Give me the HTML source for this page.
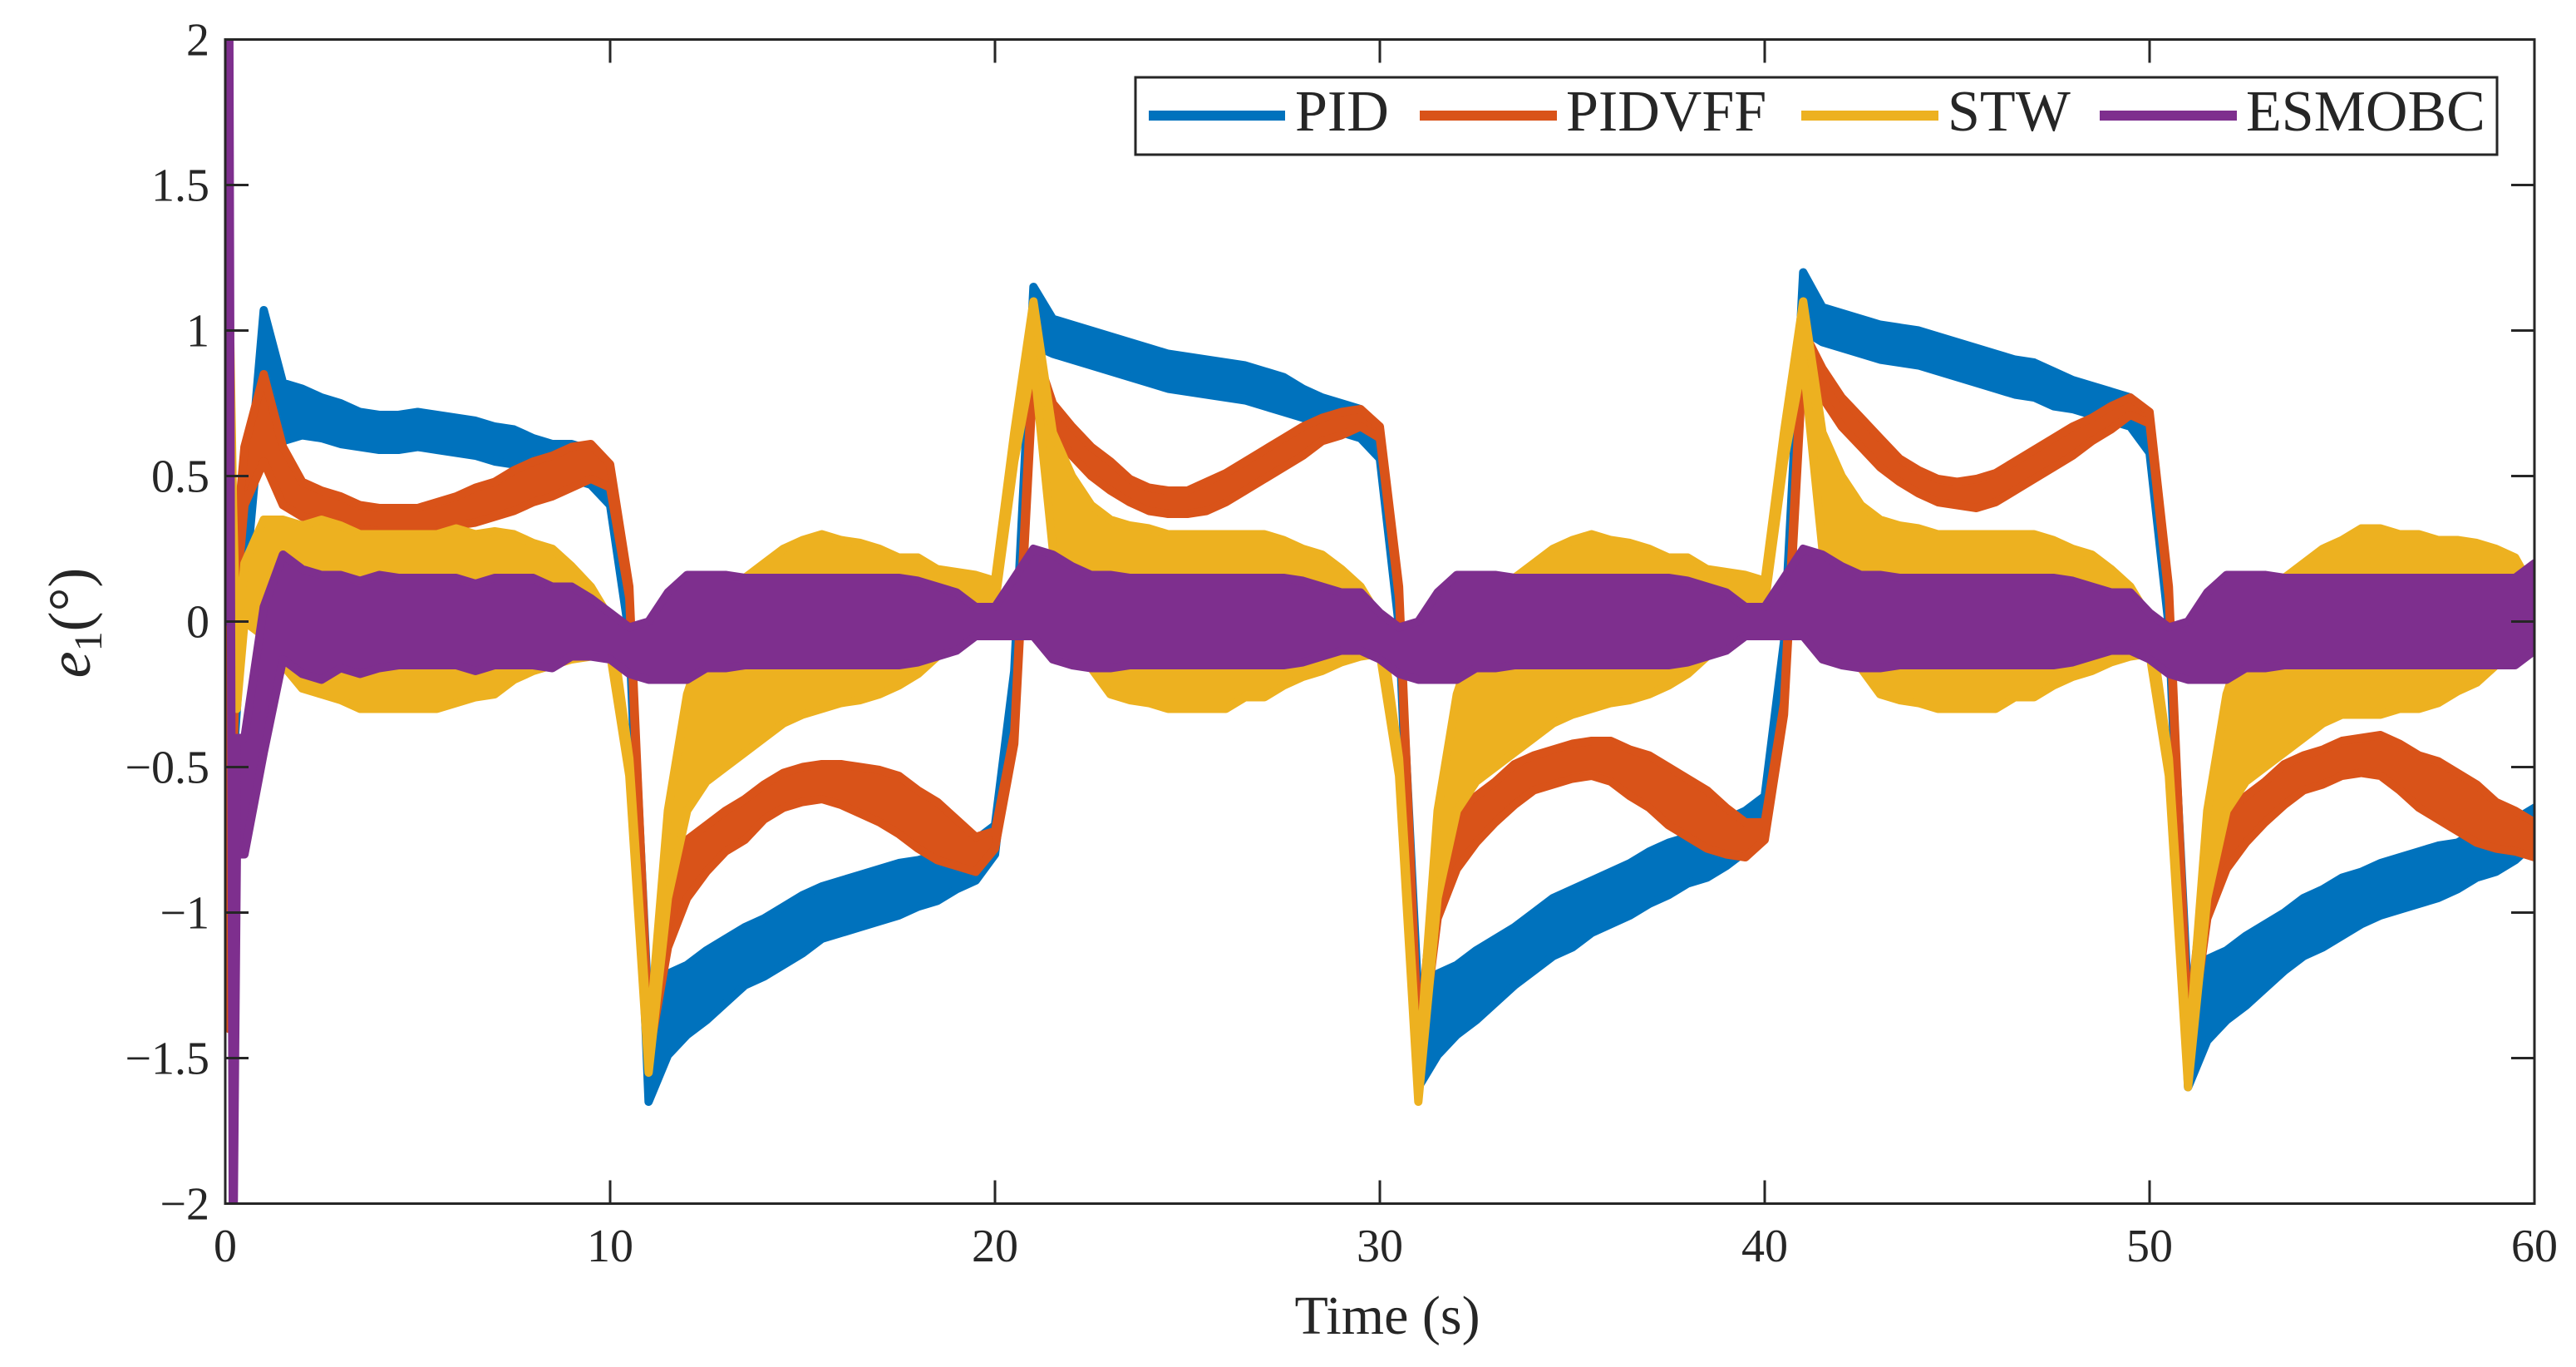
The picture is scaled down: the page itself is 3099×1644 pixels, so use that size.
<!DOCTYPE html>
<html>
<head>
<meta charset="utf-8">
<style>
html,body{margin:0;padding:0;background:#fff;}
svg{display:block;}
text{font-family:"Liberation Serif",serif;fill:#262626;}
</style>
</head>
<body>
<svg id="chart" width="3099" height="1644" viewBox="0 0 3099 1644" xmlns="http://www.w3.org/2000/svg">
<defs><clipPath id="plotclip"><rect x="271" y="47.5" width="2778" height="1400"/></clipPath></defs>
<rect x="0" y="0" width="3099" height="1644" fill="#fff"/>
<g id="series" clip-path="url(#plotclip)"></g>
<g id="axes"></g>
<text x="1669" y="1604" font-size="66" text-anchor="middle">Time (s)</text>
<text transform="translate(108,749) rotate(-90)" font-size="72" text-anchor="middle"><tspan font-style="italic">e</tspan><tspan font-size="48" dy="14">1</tspan><tspan dy="-14">(°)</tspan></text>
<g>
<rect x="1366" y="93" width="1638" height="93" fill="#fff" stroke="#262626" stroke-width="3"/>
<g><line x1="1382" y1="139" x2="1546" y2="139" stroke="#0072BD" stroke-width="12"/><text x="1558" y="157" font-size="70" fill="#000">PID</text></g>
<g><line x1="1708" y1="139" x2="1873" y2="139" stroke="#D95319" stroke-width="12"/><text x="1884" y="157" font-size="70" fill="#000">PIDVFF</text></g>
<g><line x1="2167" y1="139" x2="2332" y2="139" stroke="#EDB120" stroke-width="12"/><text x="2343" y="157" font-size="70" fill="#000">STW</text></g>
<g><line x1="2526" y1="139" x2="2691" y2="139" stroke="#7E2F8E" stroke-width="12"/><text x="2702" y="157" font-size="70" fill="#000">ESMOBC</text></g>
</g>
</svg>
<script>
const timeEarly = [0, 0.1, 0.2, 0.3, 0.5];
const xTicks = [0, 10, 20, 30, 40, 50, 60];
const yTicks = [-2, -1.5, -1, -0.5, 0, 0.5, 1, 1.5, 2];
const yTickLabels = ["\u22122", "\u22121.5", "\u22121", "\u22120.5", "0", "0.5", "1", "1.5", "2"];
const seriesNames = ["PID", "PIDVFF", "STW", "ESMOBC"];

const pidValues = [0,-0.5,-0.3,-0.2,0.2,
0.95,0.72,0.72,0.7,0.68,0.66,0.65,0.65,0.66,0.65,0.64,0.63,0.61,0.6,0.57,0.55,0.55,0.53,0.45,0.0,
-1.5,-1.35,-1.3,-1.25,-1.2,-1.15,-1.12,-1.08,-1.04,-1.0,-0.98,-0.96,-0.94,-0.92,-0.9,-0.88,-0.84,-0.82,-0.75,-0.2,
1.05,0.98,0.96,0.94,0.92,0.9,0.88,0.86,0.85,0.84,0.83,0.82,0.8,0.78,0.75,0.72,0.7,0.68,0.6,0.0,
-1.45,-1.35,-1.3,-1.25,-1.2,-1.15,-1.1,-1.05,-1.02,-0.98,-0.95,-0.92,-0.88,-0.85,-0.82,-0.8,-0.76,-0.72,-0.65,-0.1,
1.1,1.02,1.0,0.98,0.96,0.95,0.94,0.92,0.9,0.88,0.86,0.84,0.83,0.8,0.78,0.76,0.74,0.72,0.62,0.0,
-1.45,-1.3,-1.25,-1.2,-1.15,-1.1,-1.05,-1.02,-0.98,-0.95,-0.92,-0.9,-0.88,-0.86,-0.84,-0.8,-0.78,-0.75,-0.7];
const pidBand = [0,0.2,0.2,0.1,0.1,
0.12,0.1,0.08,0.07,0.07,0.06,0.06,0.06,0.06,0.06,0.06,0.06,0.06,0.06,0.06,0.06,0.06,0.06,0.05,0.05,
0.15,0.14,0.12,0.12,0.11,0.1,0.1,0.1,0.1,0.09,0.09,0.09,0.09,0.09,0.08,0.08,0.08,0.07,0.05,0.03,
0.1,0.06,0.06,0.06,0.06,0.06,0.06,0.06,0.06,0.06,0.06,0.06,0.06,0.06,0.05,0.05,0.05,0.05,0.04,0.02,
0.15,0.14,0.12,0.12,0.11,0.1,0.1,0.1,0.1,0.09,0.09,0.09,0.09,0.09,0.08,0.08,0.08,0.07,0.05,0.03,
0.1,0.06,0.06,0.06,0.06,0.06,0.06,0.06,0.06,0.06,0.06,0.06,0.06,0.06,0.05,0.05,0.05,0.05,0.04,0.02,
0.15,0.14,0.12,0.12,0.11,0.1,0.1,0.1,0.1,0.09,0.09,0.09,0.09,0.09,0.08,0.08,0.08,0.07,0.06];

const pidvffValues = [0,-1.4,-0.5,0.2,0.5,
0.7,0.5,0.42,0.4,0.38,0.36,0.35,0.35,0.35,0.36,0.38,0.4,0.42,0.45,0.48,0.5,0.53,0.55,0.5,0.1,
-1.45,-1.0,-0.85,-0.78,-0.72,-0.68,-0.62,-0.58,-0.56,-0.55,-0.56,-0.58,-0.6,-0.63,-0.68,-0.72,-0.76,-0.8,-0.75,-0.4,
0.9,0.7,0.62,0.55,0.5,0.45,0.42,0.41,0.41,0.43,0.46,0.5,0.54,0.58,0.62,0.66,0.68,0.7,0.65,0.1,
-1.5,-0.9,-0.75,-0.68,-0.62,-0.56,-0.52,-0.5,-0.48,-0.47,-0.48,-0.52,-0.55,-0.6,-0.64,-0.68,-0.72,-0.75,-0.72,-0.3,
0.95,0.82,0.72,0.65,0.58,0.52,0.48,0.45,0.44,0.44,0.46,0.5,0.54,0.58,0.62,0.66,0.7,0.74,0.7,0.1,
-1.45,-0.9,-0.75,-0.68,-0.62,-0.56,-0.52,-0.5,-0.47,-0.46,-0.46,-0.5,-0.55,-0.58,-0.62,-0.66,-0.7,-0.72,-0.75];
const pidvffBand = [0,0,0.1,0.1,0.1,
0.15,0.1,0.06,0.05,0.05,0.04,0.04,0.04,0.04,0.05,0.05,0.06,0.06,0.07,0.07,0.07,0.07,0.06,0.04,0.02,
0.05,0.12,0.1,0.08,0.07,0.07,0.06,0.06,0.06,0.06,0.07,0.08,0.09,0.1,0.1,0.1,0.08,0.06,0.03,0.02,
0.05,0.05,0.05,0.05,0.05,0.04,0.04,0.04,0.04,0.05,0.05,0.05,0.05,0.05,0.05,0.04,0.04,0.03,0.02,0.02,
0.05,0.12,0.1,0.08,0.07,0.07,0.06,0.06,0.06,0.06,0.07,0.08,0.09,0.1,0.1,0.1,0.08,0.06,0.03,0.02,
0.05,0.05,0.05,0.05,0.05,0.04,0.04,0.04,0.04,0.05,0.05,0.05,0.05,0.05,0.05,0.04,0.04,0.03,0.02,0.02,
0.05,0.12,0.1,0.08,0.07,0.07,0.06,0.06,0.06,0.06,0.07,0.08,0.09,0.1,0.1,0.1,0.08,0.07,0.06];

const stwValues = [0,1.2,0.3,-0.2,0.1,
0.15,0.1,0.05,0.05,0.03,0,0,0,0,0,0.02,0.02,0.03,0.05,0.05,0.05,0.03,0,-0.05,-0.5,
-1.5,-0.8,-0.45,-0.3,-0.2,-0.15,-0.1,-0.05,-0.02,0,0,0,0,0,0.02,0.03,0.05,0.08,0.1,0.6,
1.0,0.45,0.25,0.12,0.05,0.03,0.02,0,0,0,0,0.02,0.02,0.03,0.03,0.03,0.02,0,-0.05,-0.5,
-1.6,-0.8,-0.45,-0.3,-0.2,-0.15,-0.1,-0.05,-0.02,0,0,0,0,0,0.02,0.03,0.05,0.08,0.1,0.6,
1.0,0.45,0.25,0.12,0.05,0.03,0.02,0,0,0,0,0.02,0.02,0.03,0.03,0.03,0.02,0,-0.05,-0.5,
-1.55,-0.8,-0.45,-0.3,-0.2,-0.15,-0.1,-0.05,-0.02,0,0,0,0,0,0.02,0.03,0.05,0.06,0.0];
const stwBand = [0,0,0.1,0.1,0.1,
0.2,0.25,0.28,0.3,0.3,0.3,0.3,0.3,0.3,0.3,0.3,0.28,0.28,0.25,0.22,0.2,0.16,0.12,0.06,0.03,
0.05,0.15,0.2,0.25,0.3,0.3,0.3,0.3,0.3,0.3,0.28,0.27,0.25,0.22,0.2,0.15,0.12,0.08,0.04,0.05,
0.1,0.2,0.25,0.28,0.3,0.3,0.3,0.3,0.3,0.3,0.3,0.28,0.28,0.25,0.22,0.2,0.16,0.12,0.06,0.03,
0.05,0.15,0.2,0.25,0.3,0.3,0.3,0.3,0.3,0.3,0.28,0.27,0.25,0.22,0.2,0.15,0.12,0.08,0.04,0.05,
0.1,0.2,0.25,0.28,0.3,0.3,0.3,0.3,0.3,0.3,0.3,0.28,0.28,0.25,0.22,0.2,0.16,0.12,0.06,0.03,
0.05,0.15,0.2,0.25,0.3,0.3,0.3,0.3,0.3,0.32,0.32,0.3,0.3,0.28,0.26,0.24,0.2,0.16,0.1];

const esmobcValues = [0,2.3,-2.3,-0.6,-0.6,
-0.2,0.05,0,-0.02,0,-0.02,0,0,0,0,0,-0.02,0,0,0,-0.02,0,-0.02,-0.05,-0.1,
-0.1,-0.05,-0.02,0,0,0,0,0,0,0,0,0,0,0,0,0,0,0,0,0.05,
0.1,0.05,0.02,0,0,0,0,0,0,0,0,0,0,0,0,0,0,0,-0.05,-0.1,
-0.1,-0.05,-0.02,0,0,0,0,0,0,0,0,0,0,0,0,0,0,0,0,0.05,
0.1,0.05,0.02,0,0,0,0,0,0,0,0,0,0,0,0,0,0,0,-0.05,-0.1,
-0.1,-0.05,-0.02,0,0,0,0,0,0,0,0,0,0,0,0,0,0,0,0.05];
const esmobcBand = [0,0,0,0.2,0.2,
0.25,0.18,0.18,0.18,0.16,0.16,0.16,0.15,0.15,0.15,0.15,0.15,0.15,0.15,0.15,0.14,0.12,0.1,0.08,0.08,
0.1,0.15,0.18,0.16,0.16,0.15,0.15,0.15,0.15,0.15,0.15,0.15,0.15,0.15,0.14,0.12,0.1,0.05,0.05,0.1,
0.15,0.18,0.17,0.16,0.16,0.15,0.15,0.15,0.15,0.15,0.15,0.15,0.15,0.15,0.14,0.12,0.1,0.1,0.08,0.08,
0.1,0.15,0.18,0.16,0.16,0.15,0.15,0.15,0.15,0.15,0.15,0.15,0.15,0.15,0.14,0.12,0.1,0.05,0.05,0.1,
0.15,0.18,0.17,0.16,0.16,0.15,0.15,0.15,0.15,0.15,0.15,0.15,0.15,0.15,0.14,0.12,0.1,0.1,0.08,0.08,
0.1,0.15,0.18,0.16,0.16,0.15,0.15,0.15,0.15,0.15,0.15,0.15,0.15,0.15,0.15,0.15,0.15,0.15,0.15];

const NS = "http://www.w3.org/2000/svg";
const X0 = 271, X1 = 3049, Y0 = 1447.5, Y1 = 47.5;
function xScale(t) { return X0 + (t - 0) / 60 * (X1 - X0); }
function yScale(v) { return Y0 - (v + 2) / 4 * (Y0 - Y1); }
const times = timeEarly.slice();
for (let k = 0; times.length < pidValues.length; k++) times.push(1 + k * 0.5);

const seriesGroup = document.getElementById("series");
const colors = ["#0072BD", "#D95319", "#EDB120", "#7E2F8E"];
const allVals = [pidValues, pidvffValues, stwValues, esmobcValues];
const allBands = [pidBand, pidvffBand, stwBand, esmobcBand];
const names = ["series-pid", "series-pidvff", "series-stw", "series-esmobc"];
for (let s = 0; s < 4; s++) {
  const vals = allVals[s], band = allBands[s];
  const n = Math.min(vals.length, times.length);
  const up = [], lo = [];
  for (let i = 0; i < n; i++) {
    const b = band[i] || 0;
    up.push(xScale(times[i]).toFixed(1) + "," + yScale(vals[i] + b).toFixed(1));
    lo.push(xScale(times[i]).toFixed(1) + "," + yScale(vals[i] - b).toFixed(1));
  }
  const poly = document.createElementNS(NS, "polygon");
  poly.setAttribute("points", up.concat(lo.reverse()).join(" "));
  poly.setAttribute("fill", colors[s]);
  poly.setAttribute("stroke", colors[s]);
  poly.setAttribute("stroke-width", "10");
  poly.setAttribute("stroke-linejoin", "round");
  
  
  seriesGroup.appendChild(poly);
}

const axes = document.getElementById("axes");
const frame = document.createElementNS(NS, "rect");
frame.setAttribute("x", X0); frame.setAttribute("y", Y1);
frame.setAttribute("width", X1 - X0); frame.setAttribute("height", Y0 - Y1);
frame.setAttribute("fill", "none"); frame.setAttribute("stroke", "#262626"); frame.setAttribute("stroke-width", "3");


axes.appendChild(frame);
function mkLine(x1, y1, x2, y2) {
  const l = document.createElementNS(NS, "line");
  l.setAttribute("x1", x1); l.setAttribute("y1", y1); l.setAttribute("x2", x2); l.setAttribute("y2", y2);
  l.setAttribute("stroke", "#262626"); l.setAttribute("stroke-width", "3");
  return l;
}
xTicks.forEach(function (t) {
  const x = xScale(t);
  const a = mkLine(x, Y0, x, Y0 - 28);
  
  
  axes.appendChild(a);
  const b = mkLine(x, Y1, x, Y1 + 28);
  
  
  axes.appendChild(b);
  const tx = document.createElementNS(NS, "text");
  tx.setAttribute("x", x); tx.setAttribute("y", 1517);
  tx.setAttribute("font-size", "56"); tx.setAttribute("text-anchor", "middle");
  tx.textContent = String(t);
  
  
  axes.appendChild(tx);
});
yTicks.forEach(function (v, i) {
  const y = yScale(v);
  const a = mkLine(X0, y, X0 + 28, y);
  
  
  axes.appendChild(a);
  const b = mkLine(X1, y, X1 - 28, y);
  
  
  axes.appendChild(b);
  const tx = document.createElementNS(NS, "text");
  tx.setAttribute("x", 252); tx.setAttribute("y", y + 19);
  tx.setAttribute("font-size", "56"); tx.setAttribute("text-anchor", "end");
  tx.textContent = yTickLabels[i];
  
  
  axes.appendChild(tx);
});
</script>
</body>
</html>
